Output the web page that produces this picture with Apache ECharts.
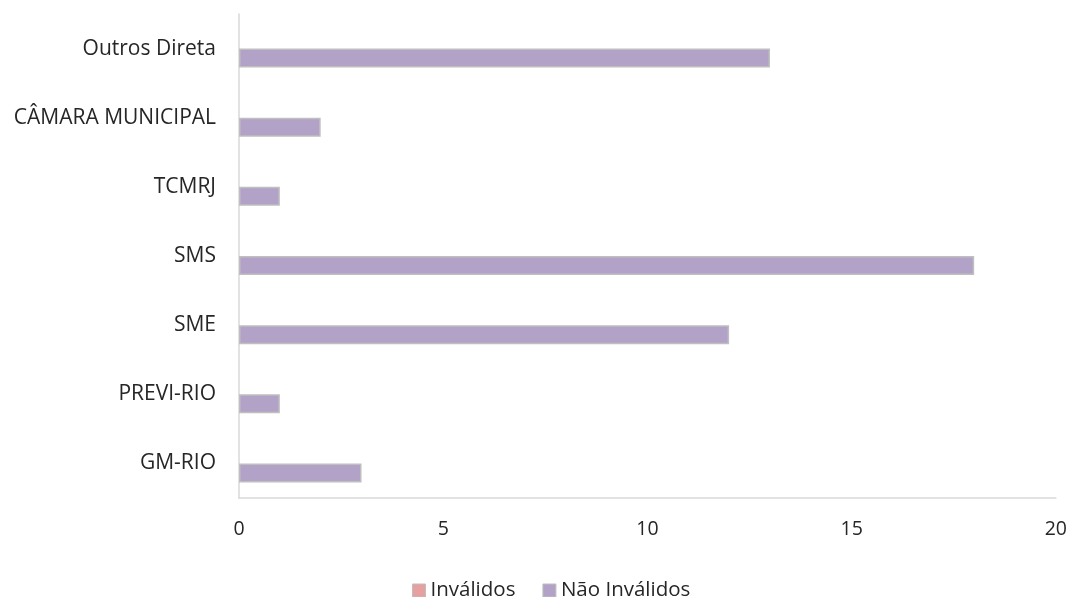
<!DOCTYPE html>
<html><head><meta charset="utf-8">
<script src="https://cdn.jsdelivr.net/npm/echarts@6/dist/echarts.min.js"></script>
<style>html,body{margin:0;padding:0;background:#fff}#c{width:1070px;height:597px}</style>
</head><body><div id="c"></div>
<script>
var categories = ['GM-RIO','PREVI-RIO','SME','SMS','TCMRJ','CÂMARA MUNICIPAL','Outros Direta'];
var invalidos = [0,0,0,0,0,0,0];
var naoInvalidos = [3,1,12,18,1,2,13];
var xTicks = {min:0, max:20, interval:5};
var font = 'Open Sans';
var chart = echarts.init(document.getElementById('c'));
chart.setOption({
  animation:false,
  grid:{left:239,right:13,top:14,bottom:99,containLabel:false},
  legend:{top:575,left:407,itemWidth:13,itemHeight:13,itemGap:27,icon:'rect',
    itemStyle:{borderColor:'#BFBFBF',borderWidth:1},
    textStyle:{fontFamily:font,fontSize:20.5,color:'#262626'},
    data:['Inválidos','Não Inválidos']},
  xAxis:{type:'value',min:xTicks.min,max:xTicks.max,interval:xTicks.interval,
    axisLine:{show:true,lineStyle:{color:'#D9D9D9',width:1.5}},
    axisTick:{show:false},splitLine:{show:false},
    axisLabel:{fontFamily:font,fontSize:19.5,color:'#262626',margin:21}},
  yAxis:{type:'category',data:categories,
    axisLine:{show:true,lineStyle:{color:'#D9D9D9',width:1.5}},
    axisTick:{show:false},
    axisLabel:{fontFamily:font,fontSize:21,color:'#262626',margin:23}},
  series:[
    {name:'Inválidos',type:'bar',data:invalidos,barGap:'0%',barCategoryGap:'45%',
      itemStyle:{color:'#E6A0A0',borderWidth:0}},
    {name:'Não Inválidos',type:'bar',data:naoInvalidos,barGap:'0%',barCategoryGap:'45%',
      itemStyle:{color:'#B3A2C7',borderColor:'#BFBFBF',borderWidth:1.5}}
  ]
});
</script></body></html>
